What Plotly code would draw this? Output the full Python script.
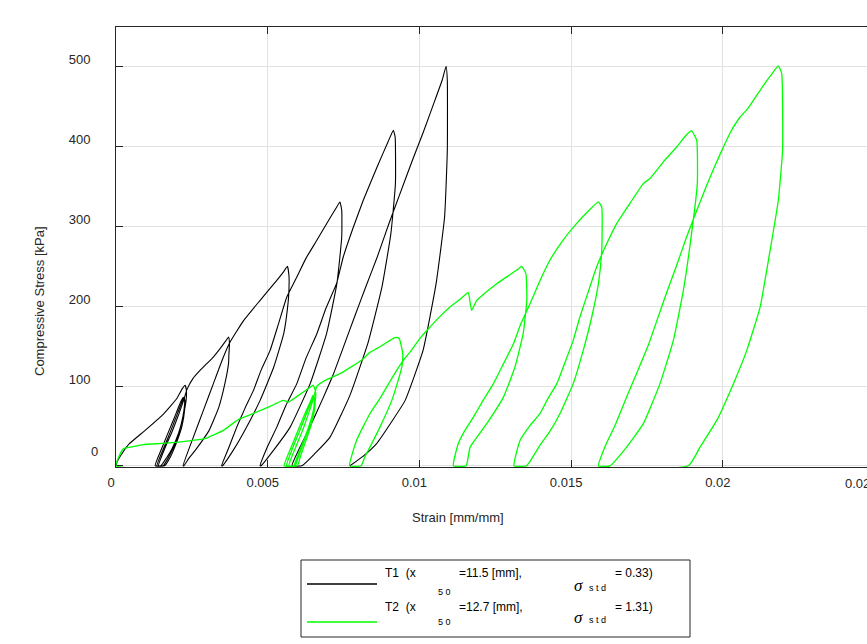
import plotly.graph_objects as go

# ---------------- data ----------------
# T1 : strain [mm/mm], stress [kPa]
t1_strain = [
    0, 0.00003, 0.00020, 0.00044, 0.00096, 0.00152, 0.00200, 0.00219, 0.00228,
    0.00232, 0.00231, 0.00222, 0.00207, 0.00185, 0.00161, 0.00148,
    0.00129, 0.00152, 0.00175, 0.00198, 0.00214, 0.00222,
    0.00226, 0.00224, 0.00214, 0.00198, 0.00175, 0.00155,
    0.00135, 0.00158, 0.00181, 0.00203, 0.00218, 0.00224,
    0.00227, 0.00226, 0.00218, 0.00201, 0.00180, 0.00160,
    0.00140, 0.00161, 0.00185, 0.00208, 0.00224, 0.00234, 0.00254, 0.00277,
    0.00299, 0.00320, 0.00343, 0.00363, 0.00371,
    0.00374, 0.00372, 0.00371, 0.00359, 0.00339, 0.00307, 0.00261, 0.00240, 0.00224,
    0.00221, 0.00255, 0.00288, 0.00321, 0.00354, 0.00376, 0.00421, 0.00475,
    0.00530, 0.00551, 0.00565,
    0.00570, 0.00570, 0.00567, 0.00553, 0.00520, 0.00475, 0.00419, 0.00382, 0.00351,
    0.00348, 0.00372, 0.00398, 0.00425, 0.00453, 0.00478, 0.00508, 0.00534,
    0.00563, 0.00596, 0.00626, 0.00662, 0.00699, 0.00725, 0.00738,
    0.00744, 0.00744, 0.00728, 0.00694, 0.00640, 0.00574, 0.00524, 0.00478,
    0.00475, 0.00498, 0.00530, 0.00560, 0.00596, 0.00626, 0.00662, 0.00692,
    0.00727, 0.00749, 0.00781, 0.00815, 0.00863, 0.00896, 0.00914,
    0.00920, 0.00921, 0.00906, 0.00877, 0.00831, 0.00771, 0.00705, 0.00656, 0.00613,
    0.00580, 0.00606, 0.00639, 0.00682, 0.00715, 0.00748, 0.00786, 0.00824,
    0.00861, 0.00900, 0.00934, 0.00977, 0.01014, 0.01051, 0.01075, 0.01088,
    0.01092, 0.01092, 0.01083, 0.01055, 0.01012, 0.00953, 0.00903, 0.00859,
    0.00814, 0.00771,
]
t1_stress = [
    0, 4.6, 15.5, 27.7, 44.4, 63.2, 84.0, 97.0, 101.0,
    94.5, 82.0, 63.2, 41.9, 21.8, 6.8, 0,
    0, 23.0, 44.4, 65.7, 80.8, 85.8,
    82.0, 69.5, 50.7, 30.6, 11.8, 0,
    0, 23.0, 44.4, 65.7, 80.8, 85.0,
    82.0, 69.5, 50.7, 30.6, 11.8, 0,
    0, 21.8, 43.1, 65.7, 83.3, 95.8, 109.6, 119.6,
    128.0, 136.0, 146.8, 157.2, 161.4,
    153.5, 138.4, 128.4, 103.3, 73.6, 44.4, 19.3, 9.3, 0,
    0, 36.0, 69.5, 103.0, 136.3, 155.1, 182.3, 207.4,
    232.5, 242.5, 250.0,
    238.7, 219.9, 203.6, 166.0, 123.8, 82.0, 40.6, 16.8, 0,
    0, 23.0, 48.5, 72.0, 94.5, 119.6, 144.7, 176.0,
    211.5, 236.6, 260.0, 282.6, 306.5, 322.8, 330.7,
    320.2, 286.8, 228.3, 165.6, 103.0, 48.5, 21.8, 0,
    0, 23.0, 48.5, 75.7, 103.0, 134.7, 165.6, 197.4,
    228.7, 261.7, 297.7, 332.8, 376.7, 405.5, 420.6,
    412.2, 353.7, 291.0, 225.0, 154.7, 88.3, 35.6, 15.5, 0,
    0, 23.0, 48.5, 84.5, 113.4, 147.2, 186.5, 225.0,
    261.7, 304.0, 339.0, 383.0, 419.3, 458.0, 483.3, 500.8,
    483.3, 395.5, 311.8, 228.3, 144.7, 82.0, 52.0, 27.7,
    11.8, 0,
]

# T2 : strain [mm/mm], stress [kPa]
t2_strain = [
    0, 0.00007, 0.00024, 0.00053, 0.00090, 0.00152, 0.00227, 0.00293, 0.00326,
    0.00354, 0.00404, 0.00453, 0.00508, 0.00551, 0.00568, 0.00606, 0.00639, 0.00650,
    0.00658, 0.00656, 0.00645, 0.00623, 0.00601, 0.00585,
    0.00554, 0.00577, 0.00600, 0.00623, 0.00641, 0.00649,
    0.00654, 0.00651, 0.00638, 0.00620, 0.00602, 0.00590,
    0.00562, 0.00583, 0.00606, 0.00628, 0.00644, 0.00651,
    0.00656, 0.00654, 0.00643, 0.00625, 0.00608, 0.00598,
    0.00570, 0.00592, 0.00615, 0.00636, 0.00651, 0.00662, 0.00689, 0.00738,
    0.00778, 0.00815, 0.00837, 0.00859, 0.00883, 0.00903, 0.00920, 0.00930,
    0.00936, 0.00945, 0.00942, 0.00930, 0.00909, 0.00870, 0.00837, 0.00821, 0.00808,
    0.00770, 0.00793, 0.00815, 0.00837, 0.00870, 0.00892, 0.00923, 0.00947,
    0.00976, 0.01002, 0.01035, 0.01068, 0.01101, 0.01134, 0.01161, 0.01172,
    0.01189, 0.01219, 0.01255, 0.01285, 0.01320, 0.01337,
    0.01351, 0.01354, 0.01342, 0.01315, 0.01277, 0.01222, 0.01167, 0.01154,
    0.01112, 0.01128, 0.01150, 0.01178, 0.01210, 0.01244, 0.01276, 0.01310,
    0.01335, 0.01365, 0.01398, 0.01430, 0.01473, 0.01518, 0.01556, 0.01590,
    0.01601, 0.01601, 0.01590, 0.01568, 0.01540, 0.01507, 0.01463, 0.01430,
    0.01397, 0.01353,
    0.01312, 0.01332, 0.01365, 0.01397, 0.01424, 0.01453, 0.01480, 0.01507,
    0.01529, 0.01556, 0.01584, 0.01615, 0.01650, 0.01694, 0.01738, 0.01760,
    0.01803, 0.01848, 0.01879, 0.01897,
    0.01914, 0.01916, 0.01897, 0.01870, 0.01837, 0.01793, 0.01738, 0.01683, 0.01628,
    0.01590, 0.01612, 0.01645, 0.01683, 0.01720, 0.01754, 0.01783, 0.01813,
    0.01848, 0.01879, 0.01908, 0.01947, 0.01975, 0.02002, 0.02027, 0.02057,
    0.02083, 0.02123, 0.02156, 0.02183,
    0.02194, 0.02197, 0.02183, 0.02156, 0.02123, 0.02079, 0.02035, 0.01980,
    0.01925, 0.01886, 0,
]
t2_stress = [
    0, 9.3, 21.4, 23.7, 26.5, 28.1, 30.6, 34.0, 39.4,
    44.4, 58.2, 65.7, 74.5, 82.0, 79.9, 89.5, 98.3, 101.2,
    92.4, 79.9, 61.1, 36.0, 15.2, 0,
    0, 23.0, 44.4, 65.7, 80.8, 88.3,
    84.5, 69.5, 50.7, 30.6, 11.8, 0,
    0, 23.0, 44.4, 65.7, 80.8, 87.0,
    83.3, 69.5, 50.7, 30.6, 11.8, 0,
    0, 23.0, 44.4, 67.0, 84.5, 99.6, 107.1, 115.5,
    124.6, 134.3, 142.2, 146.8, 152.2, 157.2, 160.6, 160.6,
    157.2, 140.6, 123.8, 107.1, 82.0, 48.5, 23.4, 11.8, 0,
    0, 31.9, 49.4, 65.3, 84.5, 98.7, 118.4, 132.2,
    146.0, 159.7, 173.9, 187.3, 199.0, 208.7, 217.0, 194.9,
    207.4, 217.4, 228.3, 236.2, 245.0, 250.0,
    240.9, 207.4, 165.6, 123.8, 86.1, 52.8, 23.4, 0,
    0, 27.7, 44.4, 61.1, 82.0, 103.0, 127.1, 153.1,
    178.6, 203.3, 232.5, 257.6, 282.6, 303.6, 319.0, 330.7,
    324.4, 270.1, 228.3, 186.5, 144.7, 103.0, 65.3, 43.1,
    25.6, 0,
    0, 31.9, 50.7, 65.3, 84.5, 103.0, 129.7, 157.2,
    186.5, 217.4, 249.2, 276.4, 303.6, 329.0, 353.7, 360.0,
    380.4, 399.6, 414.3, 419.7,
    408.0, 353.7, 291.0, 220.0, 157.2, 103.0, 52.8, 23.4, 0,
    0, 24.3, 50.7, 86.1, 119.6, 150.8, 182.3, 215.0,
    251.3, 285.1, 314.0, 351.6, 376.7, 399.6, 419.3, 437.2,
    448.1, 470.7, 488.3, 501.2,
    492.0, 395.5, 332.8, 270.1, 199.0, 144.7, 103.0, 56.9,
    23.4, 0, 0,
]

x_tickvals = [0, 0.005, 0.01, 0.015, 0.02]
x_ticktext = ["0", "0.005", "0.01", "0.015", "0.02"]
x_edge_label = "0.025"
y_tickvals = [0, 100, 200, 300, 400, 500]
y_ticktext = ["", "100", "200", "300", "400", "500"]

legend_names = ["T1", "T2"]
legend_x50 = ["11.5", "12.7"]
legend_std = ["0.33", "1.31"]
series_colors = ["#000000", "#00ff00"]

# ---------------- figure ----------------
W, H = 867, 644
L, R, T, B = 116, 0, 27, 177
PW, PH = W - L - R, H - T - B
PX_PER_UNIT = 151.7 / 0.005
AXC = "#262626"
FONT = "Liberation Sans, Arial, sans-serif"


def px(xpix):
    return (xpix - L) / PW


def py(ypix):
    return (H - B - ypix) / PH


fig = go.Figure()
fig.add_trace(go.Scatter(x=t1_strain, y=t1_stress, mode="lines",
                         line=dict(color=series_colors[0], width=1.1, shape="spline", smoothing=0.4),
                         showlegend=False, hoverinfo="skip"))
fig.add_trace(go.Scatter(x=t2_strain, y=t2_stress, mode="lines",
                         line=dict(color=series_colors[1], width=1.3, shape="spline", smoothing=0.4),
                         showlegend=False, hoverinfo="skip"))

fig.update_layout(
    width=W, height=H,
    margin=dict(l=L, r=R, t=T, b=B, pad=0),
    paper_bgcolor="white", plot_bgcolor="white",
    font=dict(family=FONT, size=13, color=AXC),
    showlegend=False,
)
fig.update_xaxes(
    range=[0, PW / PX_PER_UNIT], tickvals=x_tickvals, ticktext=x_ticktext,
    showgrid=True, gridcolor="#e1e1e1", gridwidth=1, zeroline=False,
    showline=True, linecolor=AXC, linewidth=1, mirror="ticks",
    ticks="inside", ticklen=7, tickcolor=AXC, layer="below traces",
    tickfont=dict(size=13, color=AXC), ticklabelstandoff=3, ticklabelshift=-5,
    automargin=False,
)
fig.update_yaxes(
    range=[-1.5, 550], tickvals=y_tickvals, ticktext=y_ticktext,
    showgrid=True, gridcolor="#e1e1e1", gridwidth=1, zeroline=False,
    showline=True, linecolor=AXC, linewidth=1,
    ticks="inside", ticklen=7, tickcolor=AXC, layer="below traces",
    tickfont=dict(size=13, color=AXC), ticklabelstandoff=22, ticklabelshift=-7,
    automargin=False,
)

ann = []
# "0" y label and the clipped 0.025 x label (placed as in the reference)
ann.append(dict(x=px(100), y=py(451), xref="paper", yref="paper", text="0",
                showarrow=False, xanchor="right", yanchor="middle",
                font=dict(size=13, color=AXC, family=FONT)))
ann.append(dict(x=px(861), y=py(483), xref="paper", yref="paper", text=x_edge_label,
                showarrow=False, xanchor="center", yanchor="middle",
                font=dict(size=13, color=AXC, family=FONT)))
# axis titles
ann.append(dict(x=px(458), y=py(517), xref="paper", yref="paper", text="Strain [mm/mm]",
                showarrow=False, xanchor="center", yanchor="middle",
                font=dict(size=13, color=AXC, family=FONT)))
ann.append(dict(x=px(39), y=py(301), xref="paper", yref="paper", text="Compressive Stress [kPa]",
                showarrow=False, xanchor="center", yanchor="middle", textangle=-90,
                font=dict(size=13, color=AXC, family=FONT)))

shapes = []
# legend box
shapes.append(dict(type="rect", xref="paper", yref="paper",
                   x0=px(301), x1=px(690), y0=py(560), y1=py(637),
                   line=dict(color=AXC, width=1), fillcolor="white", layer="above"))

# (text row y, sub-label y, sigma y, "std" y, sample line y)
rows = [(573, 592, 585, 588, 584), (607, 622, 617, 620, 622)]
for i, (ty, sy, gy, dy, ly) in enumerate(rows):
    shapes.append(dict(type="line", xref="paper", yref="paper",
                       x0=px(307), x1=px(377), y0=py(ly), y1=py(ly),
                       line=dict(color=series_colors[i], width=1.3), layer="above"))
    f = dict(size=12, color="#000000", family=FONT)
    fs = dict(size=9, color="#000000", family=FONT)
    ann.append(dict(x=px(383), y=py(ty), xref="paper", yref="paper",
                    text=legend_names[i] + "&nbsp;&nbsp;(x", showarrow=False,
                    xanchor="left", yanchor="middle", font=f))
    ann.append(dict(x=px(436), y=py(sy), xref="paper", yref="paper",
                    text="5 0", showarrow=False, xanchor="left", yanchor="middle", font=fs))
    ann.append(dict(x=px(457), y=py(ty), xref="paper", yref="paper",
                    text="=" + legend_x50[i] + " [mm],", showarrow=False,
                    xanchor="left", yanchor="middle", font=f))
    ann.append(dict(x=px(572), y=py(gy), xref="paper", yref="paper",
                    text="<i>σ</i>", showarrow=False, xanchor="left", yanchor="middle",
                    font=dict(size=17, color="#000000", family="Liberation Serif, Times New Roman, serif")))
    ann.append(dict(x=px(587), y=py(dy), xref="paper", yref="paper",
                    text="s t d", showarrow=False, xanchor="left", yanchor="middle", font=fs))
    ann.append(dict(x=px(613), y=py(ty), xref="paper", yref="paper",
                    text="= " + legend_std[i] + ")", showarrow=False,
                    xanchor="left", yanchor="middle", font=f))

fig.update_layout(annotations=ann, shapes=shapes)
fig.write_html(
    "out.html",
    config={"displayModeBar": False},
    post_script="document.body.style.margin='0px';document.body.style.overflow='hidden';",
)
